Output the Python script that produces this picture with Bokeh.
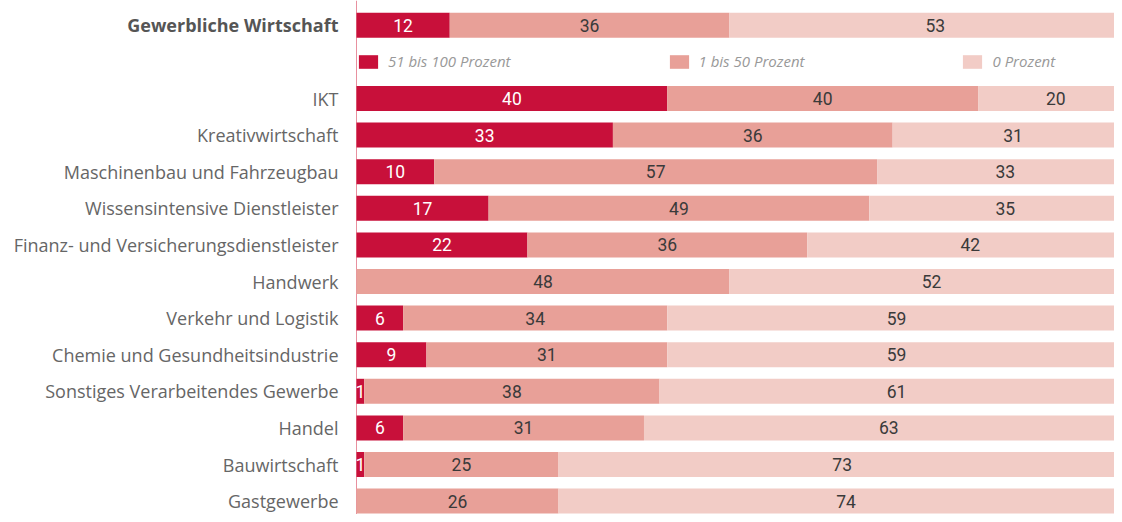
from bokeh.plotting import figure
from bokeh.models import Range1d, Span, ColumnDataSource, Legend, LegendItem
from bokeh.core.properties import value
from bokeh.embed import file_html
from bokeh.resources import INLINE

# ---------------- data ----------------
categories = [
    "Gewerbliche Wirtschaft",
    "IKT",
    "Kreativwirtschaft",
    "Maschinenbau und Fahrzeugbau",
    "Wissensintensive Dienstleister",
    "Finanz- und Versicherungsdienstleister",
    "Handwerk",
    "Verkehr und Logistik",
    "Chemie und Gesundheitsindustrie",
    "Sonstiges Verarbeitendes Gewerbe",
    "Handel",
    "Bauwirtschaft",
    "Gastgewerbe",
]
share_51_100 = [12, 40, 33, 10, 17, 22, 0, 6, 9, 1, 6, 1, 0]
share_1_50 = [36, 40, 36, 57, 49, 36, 48, 34, 31, 38, 31, 25, 26]
share_0 = [53, 20, 31, 33, 35, 42, 52, 59, 59, 61, 63, 73, 74]
series_names = ["51 bis 100 Prozent", "1 bis 50 Prozent", "0 Prozent"]

# ---------------- style ----------------
bar_colors = ["#C8103A", "#E8A098", "#F2CCC6"]
label_colors = ["#FFFFFF", "#3A3A3A", "#3A3A3A"]
NUM_FONT = "Roboto"
CAT_FONT = "Open Sans"

W, H = 1114, 514
AXIS_PX = 356.0          # pixel position of the 0 line inside the figure
PX_PER_UNIT = 7.77       # pixels per percent
ROW_PX = 36.6
FIRST_ROW_PX = 24.8
LEGEND_CENTER_PX = 62.5

# row slots: slot 1 holds the legend
row_pos = [0] + list(range(2, 2 + len(categories) - 1))

x_range = Range1d(-AXIS_PX / PX_PER_UNIT, (W - AXIS_PX) / PX_PER_UNIT)
y_range = Range1d(start=(H - FIRST_ROW_PX) / ROW_PX, end=-FIRST_ROW_PX / ROW_PX)

p = figure(width=W, height=H, x_range=x_range, y_range=y_range,
           output_backend="svg", toolbar_location=None,
           x_axis_location=None, y_axis_location=None,
           min_border=0, outline_line_color=None)
p.grid.visible = False
p.background_fill_color = "white"
p.border_fill_color = "white"

# axis line
p.add_layout(Span(location=0, dimension="height", line_color="#E8909F",
                  line_width=1, level="underlay"))

BAR_H = 25 / ROW_PX
series = [share_51_100, share_1_50, share_0]
cum = [0] * len(categories)
legend_items = []
for k, vals in enumerate(series):
    left = cum[:]
    right = [a + b for a, b in zip(cum, vals)]
    r = p.hbar(y=row_pos, left=left, right=right, height=BAR_H,
               fill_color=bar_colors[k], line_color=None)
    lab = [(0.5 * (l + rr), y, str(v)) for l, rr, y, v in zip(left, right, row_pos, vals) if v > 0]
    src = ColumnDataSource(dict(x=[a[0] for a in lab], y=[a[1] for a in lab],
                                t=[a[2] for a in lab]))
    p.text(x="x", y="y", text="t", source=src, text_align="center",
           text_baseline="middle", text_font=value(NUM_FONT),
           text_font_size="17.5px", text_color=label_colors[k])
    legend_items.append(LegendItem(label=series_names[k], renderers=[r]))
    cum = right

# category labels
LAB_X = -18 / PX_PER_UNIT
p.text(x=[LAB_X], y=[row_pos[0]], text=[categories[0]], text_align="right",
       text_baseline="middle", text_font=value(CAT_FONT), text_font_style="bold",
       text_font_size="18px", text_color="#555555")
p.text(x=[LAB_X] * (len(categories) - 1), y=row_pos[1:], text=categories[1:],
       text_align="right", text_baseline="middle", text_font=value(CAT_FONT),
       text_font_size="18px", text_color="#666666")

legend = Legend(items=legend_items, orientation="horizontal",
                location=(AXIS_PX, H - LEGEND_CENTER_PX - 8.5), spacing=156,
                glyph_width=24, glyph_height=17, label_standoff=8,
                label_height=17, label_width=10, padding=0, margin=0,
                border_line_color=None, background_fill_alpha=0,
                label_text_font=CAT_FONT, label_text_font_style="italic",
                label_text_color="#999999", label_text_font_size="15px")
p.add_layout(legend)

open("out.html", "w").write(file_html(p, INLINE))
